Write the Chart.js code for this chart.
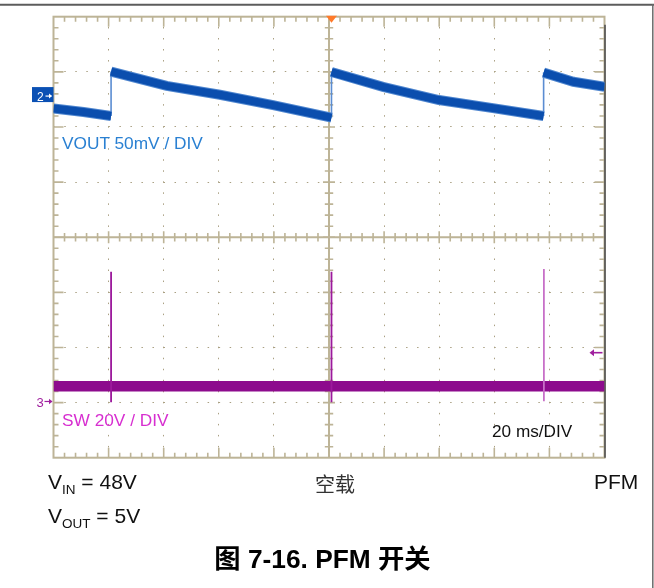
<!DOCTYPE html>
<html><head><meta charset="utf-8">
<script src="https://cdn.jsdelivr.net/npm/chart.js@4.4.1/dist/chart.umd.min.js"></script>
<style>
html,body{margin:0;padding:0;background:#fff;}
#wrap{position:relative;width:654px;height:588px;overflow:hidden;background:#fff;}
canvas{position:absolute;left:0;top:0;}
.t{position:absolute;white-space:nowrap;font-family:"Liberation Sans",Arial,sans-serif;margin:0;padding:0;}
.sub{font-size:13.5px;position:relative;top:4.5px;}
</style></head><body>
<div id="wrap">
<canvas id="c" width="654" height="588"></canvas>
<div class="t" style="left:62px;top:135px;font-size:17.3px;line-height:17px;color:#2a80d2">VOUT 50mV / DIV</div>
<div class="t" style="left:62px;top:411.6px;font-size:17.3px;line-height:17px;color:#d72fd0">SW 20V / DIV</div>
<div class="t" style="left:492px;top:422.9px;font-size:17.2px;line-height:17px;color:#111">20 ms/DIV</div>
<div class="t" style="left:37px;top:90.8px;font-size:12px;line-height:12px;color:#fff">2</div>
<div class="t" style="left:36.5px;top:395.7px;font-size:13px;line-height:13px;color:#a0209f">3</div>
<div class="t" style="left:48px;top:471.2px;font-size:21px;line-height:21px;color:#111">V<span class="sub">IN</span> = 48V</div>
<div class="t" style="left:48px;top:505.2px;font-size:21px;line-height:21px;color:#111">V<span class="sub">OUT</span> = 5V</div>
<div class="t" style="left:315px;top:474px;font-size:20px;line-height:20px;color:#333;font-family:'Noto Sans CJK SC',sans-serif">空载</div>
<div class="t" style="left:594px;top:471.2px;font-size:21px;line-height:21px;color:#111">PFM</div>
<div class="t" style="left:0;width:645px;text-align:center;top:546px;font-size:26.3px;line-height:26px;color:#000;font-weight:bold;font-family:'Liberation Sans','Noto Sans CJK SC',sans-serif">图 7-16. PFM 开关</div>
</div>
<script>
// ---- data read from the scope capture ----
// time axis: 20 ms/div, 10 divisions
const xTickMs = [0, 20, 40, 60, 80, 100, 120, 140, 160, 180, 200];
const yTickDiv = [-4, -3, -2, -1, 0, 1, 2, 3, 4];
// VOUT ripple (mV, relative to channel-2 reference marker), 50 mV/div
const voutTimeMs  = [0, 10.9, 20.9, 20.9, 41.1, 60.4, 79.7, 100.9, 100.9, 119.6, 139.9, 159.5, 177.9, 177.9, 188.7, 200];
const voutRippleMv = [-11.2, -14.5, -18.1, 22.2, 9.3, 1.2, -8.2, -19.5, 21.8, 8.4, -3.6, -10.9, -18.1, 21.3, 13.0, 8.4];
// SW node (V, relative to channel-3 ground marker), 20 V/div
const swBaseTimeMs = [0, 200];
const swBaseV = [5.5, 5.5];
const swSpikeTimeMs = [20.9, 100.9, 178.0];
const swSpikeHighV = [47.1, 47.1, 48.1];
const swSpikeLowV = [-0.3, -0.3, 0.1];
// scope settings
const ch2RefDiv = 2.56, ch3RefDiv = -2.98;
const voutMvPerDiv = 50, swVPerDiv = 20;
const trigTimeMs = 100.9, trigLevelV = 17.7;

const voutPts = voutTimeMs.map((t, i) => ({x: t, y: voutRippleMv[i]}));
const swBasePts = swBaseTimeMs.map((t, i) => ({x: t, y: swBaseV[i]}));
const swSpikePts = [];
swSpikeTimeMs.forEach((t, i) => {
  swSpikePts.push({x: t, y: swSpikeHighV[i]}, {x: t, y: swSpikeLowV[i]}, {x: t, y: null});
});
const spikeColors = ['#9c1a9c', '#9c1a9c', '#c870c8'];

const isVert = c => Math.abs(c.p0.x - c.p1.x) < 0.5;
const TR = 'rgba(0,0,0,0)';

const scopePlugin = {
  id: 'scope',
  beforeDraw(chart) {
    const ctx = chart.ctx;
    ctx.save();
    ctx.strokeStyle = '#5c5c5c'; ctx.lineWidth = 2;
    ctx.beginPath(); ctx.moveTo(0, 4.7); ctx.lineTo(654, 4.7); ctx.stroke();
    ctx.lineWidth = 1.5; ctx.strokeStyle = '#6a6a6a';
    ctx.beginPath(); ctx.moveTo(652.8, 4); ctx.lineTo(652.8, 588); ctx.stroke();
    ctx.restore();
  },
  beforeDatasetsDraw(chart) {
    const {ctx, chartArea: a, scales: {x, yDiv}} = chart;
    ctx.save();
    const col = '#bdb497';
    ctx.strokeStyle = col;
    ctx.lineWidth = 2;
    ctx.strokeRect(a.left, a.top, a.right - a.left, a.bottom - a.top);
    const cx = x.getPixelForValue(100), cy = yDiv.getPixelForValue(0);
    ctx.beginPath();
    ctx.moveTo(a.left, cy); ctx.lineTo(a.right, cy);
    ctx.moveTo(cx, a.top); ctx.lineTo(cx, a.bottom);
    ctx.stroke();
    ctx.lineWidth = 1.6;
    ctx.beginPath();
    for (let k = 1; k < 50; k++) {
      const px = x.getPixelForValue(k * 4);
      const major = k % 5 === 0;
      const L = major ? 10 : 5;
      ctx.moveTo(px, a.top); ctx.lineTo(px, a.top + L);
      ctx.moveTo(px, a.bottom); ctx.lineTo(px, a.bottom - L);
      const h = major ? 6 : 4.2;
      ctx.moveTo(px, cy - h); ctx.lineTo(px, cy + h);
    }
    for (let k = 1; k < 40; k++) {
      const py = yDiv.getPixelForValue(-4 + k * 0.2);
      const major = k % 5 === 0;
      const L = major ? 10 : 5;
      ctx.moveTo(a.left, py); ctx.lineTo(a.left + L, py);
      ctx.moveTo(a.right, py); ctx.lineTo(a.right - L, py);
      const h = major ? 6 : 4.2;
      ctx.moveTo(cx - h, py); ctx.lineTo(cx + h, py);
    }
    ctx.stroke();
    // dark right edge
    ctx.strokeStyle = '#4e4e4e'; ctx.lineWidth = 1.6;
    ctx.beginPath(); ctx.moveTo(a.right + 0.5, a.top + 8); ctx.lineTo(a.right + 0.5, a.bottom); ctx.stroke();
    ctx.restore();
  },
  afterDatasetsDraw(chart) {
    const {ctx, chartArea: a, scales: {x, yVout, ySw}} = chart;
    ctx.save();
    // trigger position marker
    const tx = x.getPixelForValue(trigTimeMs);
    ctx.fillStyle = '#ff7a2a';
    ctx.beginPath(); ctx.moveTo(tx - 5.5, a.top - 1); ctx.lineTo(tx + 5.5, a.top - 1); ctx.lineTo(tx, a.top + 6); ctx.closePath(); ctx.fill();
    // channel 2 reference marker
    const p2 = yVout.getPixelForValue(0);
    ctx.fillStyle = '#0a50b4';
    ctx.fillRect(a.left - 21.5, p2 - 9, 21.5, 15);
    ctx.strokeStyle = '#ffffff'; ctx.fillStyle = '#ffffff'; ctx.lineWidth = 1.2;
    ctx.beginPath(); ctx.moveTo(a.left - 8, p2); ctx.lineTo(a.left - 2, p2); ctx.stroke();
    ctx.beginPath(); ctx.moveTo(a.left - 1.5, p2); ctx.lineTo(a.left - 4.5, p2 - 2.5); ctx.lineTo(a.left - 4.5, p2 + 2.5); ctx.closePath(); ctx.fill();
    // channel 3 reference marker
    const p3 = ySw.getPixelForValue(0);
    ctx.strokeStyle = '#a0209f'; ctx.fillStyle = '#a0209f';
    ctx.beginPath(); ctx.moveTo(a.left - 9, p3); ctx.lineTo(a.left - 2, p3); ctx.stroke();
    ctx.beginPath(); ctx.moveTo(a.left - 1, p3); ctx.lineTo(a.left - 4.5, p3 - 2.8); ctx.lineTo(a.left - 4.5, p3 + 2.8); ctx.closePath(); ctx.fill();
    // trigger level marker
    const pt = ySw.getPixelForValue(trigLevelV);
    ctx.lineWidth = 1.6;
    ctx.beginPath(); ctx.moveTo(a.right - 2, pt); ctx.lineTo(a.right - 12, pt); ctx.stroke();
    ctx.beginPath(); ctx.moveTo(a.right - 15, pt); ctx.lineTo(a.right - 10.5, pt - 3.5); ctx.lineTo(a.right - 10.5, pt + 3.5); ctx.closePath(); ctx.fill();
    ctx.restore();
  }
};

const gridCol = '#aaa083';
new Chart(document.getElementById('c').getContext('2d'), {
  type: 'line',
  data: {
    datasets: [
      {label: 'VOUT core', data: voutPts, yAxisID: 'yVout', borderColor: '#0b4eae', borderWidth: 8,
       segment: {borderColor: c => isVert(c) ? TR : undefined}},
      {label: 'VOUT edge', data: voutPts, yAxisID: 'yVout', borderColor: '#4f86cf', borderWidth: 10,
       segment: {borderColor: c => isVert(c) ? TR : undefined}},
      {label: 'VOUT step', data: voutPts, yAxisID: 'yVout', borderColor: '#5b8dd2', borderWidth: 1.6,
       segment: {borderColor: c => isVert(c) ? undefined : TR}},
      {label: 'SW spikes', data: swSpikePts, yAxisID: 'ySw', borderColor: '#9c1a9c', borderWidth: 1.8, spanGaps: false,
       segment: {borderColor: c => spikeColors[Math.floor(c.p0DataIndex / 3)]}},
      {label: 'SW', data: swBasePts, yAxisID: 'ySw', borderColor: '#8d0b8d', borderWidth: 10.5}
    ]
  },
  options: {
    responsive: false, animation: false, devicePixelRatio: 1,
    parsing: true,
    layout: {padding: {left: 53.5, top: 16.7, right: 49.5, bottom: 130.3}},
    plugins: {legend: {display: false}, tooltip: {enabled: false}, title: {display: false}},
    elements: {point: {radius: 0, hoverRadius: 0}, line: {tension: 0, borderCapStyle: 'butt'}},
    scales: {
      x: {type: 'linear', min: xTickMs[0], max: xTickMs[xTickMs.length - 1],
          afterBuildTicks: s => { s.ticks = xTickMs.map(v => ({value: v})); },
          ticks: {display: false}, grid: {color: gridCol, lineWidth: 1, drawTicks: false},
          border: {display: false, dash: [1.5, 9.525], dashOffset: 0.75}},
      yDiv: {type: 'linear', position: 'left', min: -4, max: 4,
          afterBuildTicks: s => { s.ticks = yTickDiv.map(v => ({value: v})); },
          ticks: {display: false}, grid: {color: gridCol, lineWidth: 1, drawTicks: false},
          border: {display: false, dash: [1.5, 9.525], dashOffset: 0.75}},
      yVout: {type: 'linear', display: false, min: (-4 - ch2RefDiv) * voutMvPerDiv, max: (4 - ch2RefDiv) * voutMvPerDiv},
      ySw: {type: 'linear', display: false, min: (-4 - ch3RefDiv) * swVPerDiv, max: (4 - ch3RefDiv) * swVPerDiv}
    }
  },
  plugins: [scopePlugin]
});
</script>
</body></html>
